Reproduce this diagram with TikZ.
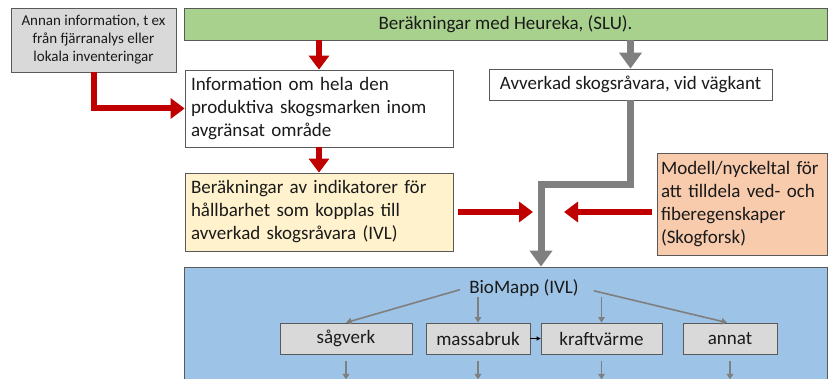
\documentclass[tikz,border=0pt]{standalone}
\usepackage{fontspec}
\setmainfont{Carlito}
\usetikzlibrary{positioning, arrows.meta}
\definecolor{heurekagreen}{HTML}{A9D18E}
\definecolor{annangray}{HTML}{D9D9D9}
\definecolor{indikyellow}{HTML}{FFF2CC}
\definecolor{modellsalmon}{HTML}{F8CBAD}
\definecolor{biomappblue}{HTML}{9DC3E6}
\definecolor{arrowred}{HTML}{C00000}
\definecolor{arrowgray}{HTML}{7F7F7F}
\definecolor{boxline}{HTML}{595959}
\definecolor{textcol}{HTML}{1A1A1A}

\begin{document}
\begin{tikzpicture}[x=1pt, y=-1pt,
    box/.style={draw=boxline, line width=0.8pt, minimum height=31pt, inner sep=6pt, text=textcol, font=\fontsize{19}{23}\selectfont},
    textbox/.style={box, align=left, text width=#1},
    unitbox/.style={box, fill=annangray, minimum height=31pt},
    redarrow/.style={draw=arrowred, line width=6pt, -{Triangle[width=20pt,length=14pt]}},
    grayarrow/.style={draw=arrowgray, line width=7pt, -{Triangle[width=22pt,length=16pt]}},
    thinarrow/.style={draw=arrowgray, line width=1.6pt, -{Triangle[width=6.5pt,length=5.5pt]}}
]
\useasboundingbox (0,0) rectangle (828,379);
\clip (0,0) rectangle (828,379);

% background of the BioMapp part
\node[box, fill=biomappblue, minimum width=643pt, minimum height=150pt] (bmbox) at (505.5, 342) {};

\node[box, fill=annangray, align=center, minimum width=165pt, minimum height=64pt, font=\fontsize{15}{18}\selectfont] (annan) at (93.5, 40) {Annan information, t ex\\från fjärranalys eller\\lokala inventeringar};
\node[box, fill=heurekagreen, minimum width=643pt, minimum height=32pt] (heureka) at (505.5, 24) {Beräkningar med Heureka, (SLU).};
\node[textbox=256pt, minimum height=77pt] (info) at (319, 108.5) {Information om hela den\\produktiva skogsmarken inom\\avgränsat område};
\node[box, minimum width=283pt] (avverkad) at (630.5, 84.5) {Avverkad skogsråvara, vid vägkant};
\node[textbox=256pt, fill=indikyellow, minimum height=78pt] (indik) at (319, 212) {Beräkningar av indikatorer för\\hållbarhet som kopplas till\\avverkad skogsråvara (IVL)};
\node[textbox=162pt, inner sep=4pt, fill=modellsalmon, minimum height=102pt] (modell) at (742, 204) {Modell/nyckeltal för\\att tilldela ved- och\\fiberegenskaper\\(Skogforsk)};

\node[font=\fontsize{19}{23}\selectfont, text=textcol] (bio) at (524, 288) {BioMapp (IVL)};
\node[unitbox, minimum width=132pt] (sagverk) at (346, 338.5) {sågverk};
\node[unitbox, minimum width=104pt] (massabruk) at (478, 338.5) {massabruk};
\node[unitbox, minimum width=121pt] (kraftvarme) at (601.5, 338.5) {kraftvärme};
\node[unitbox, minimum width=94pt] (annat) at (730, 338.5) {annat};

\coordinate (merge) at (541, 185);
\coordinate (inL) at (533, 212);
\coordinate (inR) at (564, 212);

% red flow
\draw[redarrow] (info.north |- heureka.south) -- (info.north);
\draw[redarrow] (annan.south) |- (info.west);
\draw[redarrow] (info.south) -- (indik.north);
\draw[redarrow, shorten <=5pt] (indik.east |- inL) -- (inL);
\draw[redarrow, shorten <=5pt] (modell.west |- inR) -- (inR);

% gray flow
\draw[grayarrow] (avverkad.north |- heureka.south) -- (avverkad.north);
\draw[grayarrow] (avverkad.south) |- (merge) -- (merge |- bmbox.north);

% inside BioMapp
\draw[thinarrow, shorten <=6pt] (bio.west) -- (sagverk.north);
\draw[thinarrow, shorten <=12pt] (bio.east) -- ([xshift=-3pt]annat.north);
\draw[thinarrow] ([yshift=3pt]bio.south -| massabruk.north) -- (massabruk.north);
\draw[thinarrow] ([yshift=3pt]bio.south -| kraftvarme.north) -- (kraftvarme.north);
\draw[draw=black, line width=0.8pt, -{Triangle[width=4pt,length=4pt]}] (massabruk.east) -- (kraftvarme.west);
\foreach \unit in {sagverk, massabruk, kraftvarme, annat}
    \draw[thinarrow] ([yshift=-7pt]\unit.south) -- ++(0,18);
\end{tikzpicture}
\end{document}
